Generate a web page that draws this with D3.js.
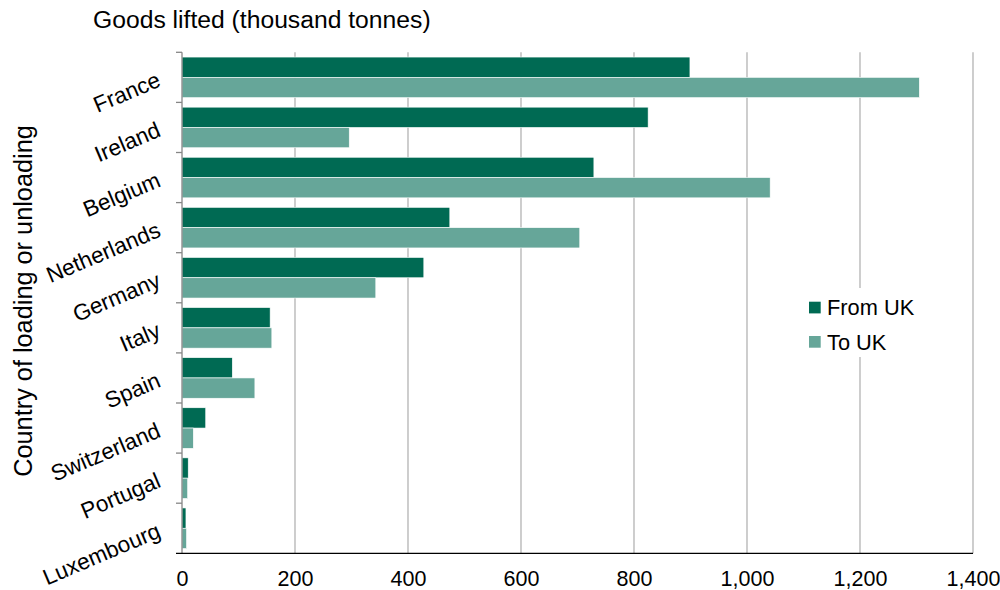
<!DOCTYPE html>
<html>
<head>
<meta charset="utf-8">
<script src="https://cdn.jsdelivr.net/npm/d3@7"></script>
<style>
  html, body { margin: 0; padding: 0; background: #fff; }
  svg { display: block; font-family: "Liberation Sans", Arial, sans-serif; }
</style>
</head>
<body>
<svg id="chart" width="1000" height="590"></svg>
<script>
const categories = ["France", "Ireland", "Belgium", "Netherlands", "Germany", "Italy", "Spain", "Switzerland", "Portugal", "Luxembourg"];
const fromUK = [899, 825, 729, 474, 428, 156, 89, 42, 11, 7];
const toUK = [1305, 296, 1041, 704, 343, 159, 129, 20, 10, 8];
const xTicks = [0, 200, 400, 600, 800, 1000, 1200, 1400];
const seriesNames = ["From UK", "To UK"];
const seriesColors = ["#006a53", "#66a699"];

const svg = d3.select("#chart");
const x = d3.scaleLinear().domain([0, 1400]).range([182, 973]);
const y = d3.scaleBand().domain(categories).range([52.3, 553.3]).paddingInner(0.19).paddingOuter(0.095);
const sub = d3.scaleBand().domain([0, 1]).range([0, y.bandwidth()]);
const yTop = 52.3, yBot = 553.3;

// gridlines
svg.append("g").selectAll("line").data(xTicks.filter(d => d > 0)).join("line")
  .attr("x1", d => x(d)).attr("x2", d => x(d))
  .attr("y1", yTop).attr("y2", yBot)
  .attr("stroke", "#b3b3b3").attr("stroke-width", 1.3);

// legend background (covers gridline)
svg.append("rect").attr("x", 800).attr("y", 288).attr("width", 130).attr("height", 69).attr("fill", "#fff");

// bars
const data = categories.map((c, i) => ({ c, vals: [fromUK[i], toUK[i]] }));
const groups = svg.append("g").selectAll("g").data(data).join("g")
  .attr("transform", d => `translate(0,${y(d.c)})`);
groups.selectAll("rect").data(d => d.vals.map((v, k) => ({ v, k }))).join("rect")
  .attr("x", x(0))
  .attr("y", d => sub(d.k))
  .attr("width", d => x(d.v) - x(0))
  .attr("height", sub.bandwidth())
  .attr("fill", d => seriesColors[d.k])
  .attr("stroke", "#ffffff").attr("stroke-width", 0.6);

// y axis line and ticks at category boundaries
svg.append("line").attr("x1", 182).attr("x2", 182).attr("y1", yTop).attr("y2", yBot)
  .attr("stroke", "#868686").attr("stroke-width", 1.3);
const step = y.step();
const bounds = d3.range(categories.length).map(i => yTop + i * step);
svg.append("g").selectAll("line").data(bounds).join("line")
  .attr("x1", 176).attr("x2", 182).attr("y1", d => d).attr("y2", d => d)
  .attr("stroke", "#868686").attr("stroke-width", 1.3);

// x axis
const xAxis = d3.axisBottom(x).tickValues(xTicks).tickSize(0).tickPadding(0)
  .tickFormat(d3.format(","));
const gx = svg.append("g").attr("transform", `translate(0,${yBot})`).call(xAxis);
gx.select(".domain").remove();
gx.selectAll("text").attr("y", 32.5).attr("dy", 0).attr("font-size", 21.5)
  .attr("fill", "#000").attr("font-family", "Liberation Sans, Arial, sans-serif");
svg.append("line").attr("x1", 176).attr("x2", 973).attr("y1", yBot).attr("y2", yBot)
  .attr("stroke", "#000").attr("stroke-width", 1.3);

// category labels
svg.append("g").selectAll("text").data(categories).join("text")
  .attr("transform", d => `translate(159,${y(d) + y.bandwidth() / 2 + 1}) rotate(-23)`)
  .attr("text-anchor", "end")
  .attr("dy", "0.35em")
  .attr("font-size", 22.5)
  .attr("fill", "#000")
  .text(d => d);

// titles
svg.append("text").attr("x", 93).attr("y", 28).attr("font-size", 24.7).attr("fill", "#000")
  .text("Goods lifted (thousand tonnes)");
svg.append("text").attr("transform", "translate(32,301) rotate(-90)")
  .attr("text-anchor", "middle").attr("font-size", 25.3).attr("fill", "#000")
  .text("Country of loading or unloading");

// legend
const leg = svg.append("g").selectAll("g").data(seriesNames).join("g")
  .attr("transform", (d, i) => `translate(809,${301.7 + i * 34.3})`);
leg.append("rect").attr("width", 11.7).attr("height", 11.7).attr("fill", (d, i) => seriesColors[i]);
leg.append("text").attr("x", 18).attr("y", 13.5).attr("font-size", 21.8).attr("fill", "#000").text(d => d);
</script>
</body>
</html>
